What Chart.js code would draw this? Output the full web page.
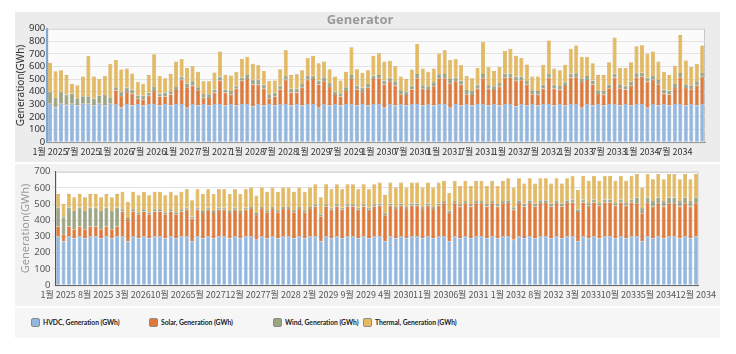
<!DOCTYPE html>
<html>
<head>
<meta charset="utf-8">
<script src="https://cdn.jsdelivr.net/npm/chart.js@4.4.1/dist/chart.umd.min.js"></script>
<style>
  body { margin: 0; background: #fff; width: 736px; height: 354px; position: relative; overflow: hidden;
         font-family: "Noto Sans CJK KR", "Noto Sans", sans-serif; }
  .panel { position: absolute; left: 15px; width: 705px; }
  #topBox { top: 12px; height: 150px; background: #ececec; }
  #botBox { top: 164px; height: 142px; background: #f2f2f2; }
  #legendBox { top: 308px; height: 30px; background: #f6f6f6; }
  .item { position: absolute; top: 10px; font: 700 6.8px Lato, sans-serif; color: #222; line-height: 9px;
          white-space: nowrap; letter-spacing: -0.05px; }
  .item i { display: inline-block; width: 7px; height: 7px; border: 1px solid #8a8a8a; border-radius: 2px;
            vertical-align: -2px; margin-right: 3px; }
</style>
</head>
<body>
<div id="topBox" class="panel"><canvas id="topChart" width="705" height="150"></canvas></div>
<div id="botBox" class="panel"><canvas id="botChart" width="705" height="142"></canvas></div>
<div id="legendBox" class="panel">
  <span class="item" style="left:16px"><i style="background:#93b7de"></i>HVDC, Generation (GWh)</span>
  <span class="item" style="left:134px"><i style="background:#e07a3a"></i>Solar, Generation (GWh)</span>
  <span class="item" style="left:258px"><i style="background:#9ca582"></i>Wind, Generation (GWh)</span>
  <span class="item" style="left:348px"><i style="background:#e5b95e"></i>Thermal, Generation (GWh)</span>
</div>
<script>
const years = [2025, 2026, 2027, 2028, 2029, 2030, 2031, 2032, 2033, 2034];
const months = ["1월", "2월", "3월", "4월", "5월", "6월", "7월", "8월", "9월", "10월", "11월", "12월"];

// tick labels shown under each panel
const topTickLabels = [
  "1월 2025", "7월 2025", "1월 2026", "7월 2026", "1월 2027", "7월 2027", "1월 2028", "7월 2028",
  "1월 2029", "7월 2029", "1월 2030", "7월 2030", "1월 2031", "7월 2031", "1월 2032", "7월 2032",
  "1월 2033", "7월 2033", "1월 2034", "7월 2034"
];
const botTickLabels = [
  "1월 2025", "8월 2025", "3월 2026", "10월 2026", "5월 2027", "12월 2027", "7월 2028", "2월 2029",
  "9월 2029", "4월 2030", "11월 2030", "6월 2031", "1월 2032", "8월 2032", "3월 2033", "10월 2033",
  "5월 2034", "12월 2034"
];

// ---- top panel (GWh), one row per year ----
const hvdcTop = [
  300,274,300,291,300,290,300,300,290,300,290,300,
  300,274,300,290,300,290,300,300,290,300,290,300,
  300,272,300,290,300,290,300,300,290,300,290,300,
  300,282,300,290,300,290,300,300,290,300,290,300,
  300,272,300,290,300,290,300,300,290,300,290,300,
  300,272,300,290,300,290,300,300,290,300,290,300,
  300,272,300,290,300,290,300,300,290,300,290,300,
  300,282,300,290,300,290,300,300,290,300,290,300,
  300,272,300,290,300,290,300,300,290,300,290,300,
  300,272,300,290,300,290,300,300,290,300,290,300
];
const solarTop = [
  5,4,5,5,5,4,5,5,4,5,4,5,
  110,93,98,93,45,47,68,106,73,63,88,113,
  194,163,149,121,52,60,93,187,103,75,133,187,
  200,175,156,133,48,73,118,194,103,93,141,194,
  200,185,182,148,73,73,106,200,128,98,141,200,
  207,185,182,159,80,83,118,207,133,113,154,207,
  207,195,182,166,80,83,123,207,133,113,150,210,
  215,205,190,165,80,85,125,210,135,115,155,212,
  215,205,192,168,82,85,128,212,138,118,158,215,
  218,208,195,170,85,88,130,215,140,120,160,218
];
const windTop = [
  95,72,95,80,78,55,60,60,50,65,80,52,
  26,32,33,33,25,31,25,32,22,30,26,25,
  26,31,33,25,30,30,25,33,25,31,26,25,
  32,38,38,33,32,30,31,31,30,30,30,31,
  27,31,33,31,27,25,30,32,31,33,30,27,
  25,31,30,33,31,27,31,33,28,31,30,31,
  33,33,30,31,33,33,33,33,30,31,30,32,
  30,32,31,30,31,30,32,31,30,31,30,32,
  31,30,32,31,30,31,30,32,31,30,32,31,
  32,31,30,32,31,30,31,33,30,31,32,31
];
// visible height of each stacked bar
const totalTop = [
  629,563,570,532,464,451,520,680,520,502,525,621,
  652,576,583,545,477,464,532,697,525,507,540,639,
  659,588,601,558,482,482,553,718,532,528,558,659,
  677,621,609,565,487,489,578,728,532,538,570,667,
  684,626,639,578,520,489,558,753,578,550,570,684,
  705,639,646,601,520,502,576,778,583,558,583,702,
  728,652,659,609,525,507,588,791,596,565,596,723,
  740,684,667,616,520,520,614,806,583,570,614,740,
  766,677,677,626,532,532,634,829,588,588,634,761,
  768,702,718,639,558,532,601,849,647,596,621,766
];

// ---- bottom panel (GWh) ----
const hvdcBot = [
  300,270,300,290,300,290,300,300,290,300,290,300,
  300,270,300,290,300,290,300,300,290,300,290,300,
  300,271,300,290,300,290,300,300,290,300,290,300,
  300,281,300,290,300,290,300,300,290,300,290,300,
  300,271,300,290,300,290,300,300,290,300,290,300,
  300,271,300,290,300,290,300,300,290,300,290,300,
  300,271,300,290,300,290,300,300,290,300,290,300,
  300,281,300,290,300,290,300,300,290,300,290,300,
  300,271,300,290,300,290,300,300,290,300,290,300,
  300,271,300,290,300,290,300,300,290,300,290,300
];
const solarBot = [
  62,44,62,55,62,55,62,62,55,62,55,62,
  155,132,155,148,155,148,155,155,148,155,148,155,
  165,140,165,155,165,155,165,165,155,165,155,165,
  170,152,170,160,170,160,170,170,160,170,160,170,
  186,155,186,175,186,175,186,186,175,186,175,186,
  190,160,190,180,190,180,190,190,180,190,180,190,
  205,175,205,195,205,195,205,205,195,205,195,205,
  207,185,207,196,207,196,207,207,196,207,196,207,
  210,180,210,200,210,200,210,210,200,210,200,210,
  205,173,205,195,205,195,205,205,195,205,195,205
];
const windBot = [
  117,105,117,113,117,113,117,117,113,117,113,117,
  13,12,13,12,13,12,13,13,12,13,12,13,
  13,12,13,12,13,12,13,13,12,13,12,13,
  13,12,13,12,13,12,13,13,12,13,12,13,
  14,12,14,13,14,13,14,14,13,14,13,14,
  14,12,14,13,14,13,14,14,13,14,13,14,
  15,13,15,14,15,14,15,15,14,15,14,15,
  17,15,17,16,17,16,17,17,16,17,16,17,
  18,16,18,17,18,17,18,18,17,18,17,18,
  36,32,36,35,36,35,36,36,35,36,35,36
];
const totalBot = [
  562,503,562,543,562,543,562,562,543,562,543,562,
  577,514,577,555,577,555,577,577,555,577,555,577,
  591,524,591,563,591,563,591,591,563,591,563,591,
  602,553,602,577,602,577,602,602,577,602,577,602,
  623,543,623,591,623,591,623,623,591,623,591,623,
  633,556,633,602,633,602,633,633,602,633,602,633,
  644,570,644,612,644,612,644,644,612,644,612,644,
  660,602,660,627,660,627,660,660,627,660,627,660,
  675,587,675,644,675,644,675,675,644,675,644,675,
  686,602,686,654,686,654,686,686,654,686,654,686
];

const categories = [];
years.forEach(y => months.forEach(m => categories.push(m + " " + y)));

const colors = {
  hvdc: ["#93b7de", "#7da3cf"],
  solar: ["#e07a3a", "#c9672c"],
  wind: ["#9ca582", "#7e8866"],
  thermal: ["#e5b95e", "#c99b3f"]
};

function series(label, data, c) {
  return {
    label, data, backgroundColor: c[0], borderColor: c[1], borderWidth: 0.6,
    categoryPercentage: 0.9, barPercentage: 0.8
  };
}

function buildDatasets(hvdc, solar, wind, total) {
  const thermal = total.map((t, i) => t - hvdc[i] - solar[i] - wind[i]);
  return [
    series("HVDC, Generation (GWh)", hvdc, colors.hvdc),
    series("Solar, Generation (GWh)", solar, colors.solar),
    series("Wind, Generation (GWh)", wind, colors.wind),
    series("Thermal, Generation (GWh)", thermal, colors.thermal)
  ];
}

// white plot background with a thin frame
const plotBg = {
  id: "plotBg",
  beforeDraw(chart, args, opts) {
    const { ctx, chartArea: a } = chart;
    ctx.save();
    ctx.fillStyle = opts.color;
    ctx.fillRect(a.left, a.top, a.right - a.left, a.bottom - a.top);
    ctx.strokeStyle = opts.border;
    ctx.lineWidth = 1;
    ctx.strokeRect(a.left + 0.5, a.top + 0.5, a.right - a.left - 1, a.bottom - a.top);
    ctx.restore();
  }
};

function makeChart(id, datasets, cfg) {
  const shown = new Set(cfg.tickLabels);
  return new Chart(document.getElementById(id), {
    type: "bar",
    data: { labels: categories, datasets },
    plugins: [plotBg],
    options: {
      responsive: false,
      animation: false,
      layout: { padding: cfg.padding },
      plugins: {
        legend: { display: false },
        tooltip: { enabled: false },
        title: cfg.title,
        plotBg: { color: cfg.plotColor, border: "#c8c8c8" }
      },
      scales: {
        x: {
          stacked: true,
          grid: { display: false, drawTicks: false },
          border: { color: cfg.xBorder },
          ticks: {
            autoSkip: false, maxRotation: 0, minRotation: 0, padding: 4,
            color: cfg.tickColor, font: { size: 9, family: "Noto Sans CJK KR" },
            callback(v, i) { return shown.has(categories[i]) ? categories[i] : ""; }
          }
        },
        y: {
          stacked: true, min: 0, max: cfg.yMax,
          border: { color: cfg.yBorder, width: cfg.yBorderWidth },
          grid: { color: cfg.gridColor, tickLength: cfg.yTickLength, drawTicks: true },
          ticks: {
            stepSize: 100, autoSkip: false, padding: 2, color: cfg.tickColor,
            font: { size: 9.5, family: "Noto Sans" }
          },
          title: {
            display: true, text: "Generation(GWh)", color: cfg.axisTitleColor,
            padding: 0, font: { size: cfg.axisTitleSize, family: "Noto Sans" }
          }
        }
      }
    }
  });
}

makeChart("topChart", buildDatasets(hvdcTop, solarTop, windTop, totalTop), {
  tickLabels: topTickLabels, yMax: 900, yTickLength: 0, axisTitleSize: 10,
  padding: { left: 0, right: 15, top: 0, bottom: 1 },
  title: {
    display: true, text: "Generator", color: "#9a9a9a",
    font: { size: 13, weight: "bold", family: "Open Sans" }, padding: { top: 0, bottom: 1 }
  },
  plotColor: "#fbfbfb", xBorder: "#999", yBorder: "#7fa7d6", yBorderWidth: 2,
  gridColor: "#e4e4e4", tickColor: "#333", axisTitleColor: "#333"
});

makeChart("botChart", buildDatasets(hvdcBot, solarBot, windBot, totalBot), {
  tickLabels: botTickLabels, yMax: 700, yTickLength: 3, axisTitleSize: 11,
  padding: { left: 4, right: 15, top: 6, bottom: 2 },
  title: { display: false },
  plotColor: "#ffffff", xBorder: "#666", yBorder: "#555", yBorderWidth: 1,
  gridColor: "#e2e2e2", tickColor: "#555", axisTitleColor: "#9a9a9a"
});
</script>
</body>
</html>
